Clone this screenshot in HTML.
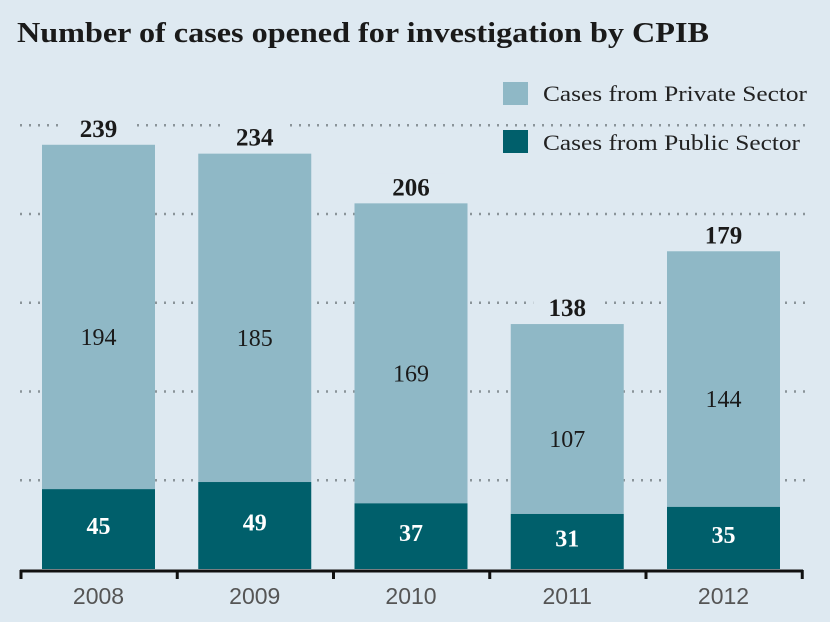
<!DOCTYPE html>
<html><head><meta charset="utf-8"><style>
body{margin:0;background:#dee9f1;}
svg{display:block;font-family:"Liberation Serif",serif;}
</style></head><body>
<svg width="830" height="622">
<rect width="830" height="622" fill="#dee9f1"/>
<text x="17" y="42" font-size="28" font-weight="bold" fill="#1a1a1a" textLength="692" lengthAdjust="spacingAndGlyphs">Number of cases opened for investigation by CPIB</text>
<g id="grid"></g>
<g id="bars"></g>
<g id="axis"></g>
<g>
<rect x="503" y="82" width="25" height="23" fill="#8fb8c6"/>
<text x="543" y="101" font-size="22" fill="#222" textLength="264" lengthAdjust="spacingAndGlyphs">Cases from Private Sector</text>
<rect x="503" y="130" width="25" height="23" fill="#005f6b"/>
<text x="543" y="150" font-size="22" fill="#222" textLength="257" lengthAdjust="spacingAndGlyphs">Cases from Public Sector</text>
</g>
</svg>
<script>
const years=["2008","2009","2010","2011","2012"];
const privateCases=[194,185,169,107,144];
const publicCases=[45,49,37,31,35];
const totals=[239,234,206,138,179];
const gridTicks=[50,100,150,200,250];
const NS="http://www.w3.org/2000/svg";
const base=569,scale=1.775,x0=42,step=156.25,bw=113;
const y=v=>base-v*scale;
const xb=i=>x0+i*step;
function mk(tag,attrs,parent,txt){const e=document.createElementNS(NS,tag);for(const k in attrs)e.setAttribute(k,attrs[k]);if(txt!==undefined)e.textContent=txt;parent.appendChild(e);return e;}
const grid=document.getElementById('grid'),bars=document.getElementById('bars'),axis=document.getElementById('axis');
gridTicks.forEach(t=>{
 const l=mk('line',{x1:20,x2:812,y1:y(t),y2:y(t),stroke:'#8a9499','stroke-width':2.5,'stroke-dasharray':'2 7'},grid);
 
 
});
years.forEach((yr,i)=>{
 const x=xb(i),tot=publicCases[i]+privateCases[i];
 const pr=mk('rect',{x:x,y:y(tot),width:bw,height:privateCases[i]*scale,fill:'#8fb8c6'},bars);
 
 
 const pu=mk('rect',{x:x,y:y(publicCases[i]),width:bw,height:publicCases[i]*scale,fill:'#005f6b'},bars);
 
 
 const tb=mk('rect',{x:x+bw/2-34,y:y(tot)-30,width:68,height:27,fill:'#dee9f1'},bars);
 
 
 const tl=mk('text',{x:x+bw/2,y:y(tot)-8,'text-anchor':'middle','font-size':25,'font-weight':'bold',fill:'#1a1a1a'},bars,totals[i]);
 
 
 const pl=mk('text',{x:x+bw/2,y:y(publicCases[i]+privateCases[i]/2)+28,'text-anchor':'middle','font-size':24,fill:'#1a1a1a'},bars,privateCases[i]);
 
 
 const ul=mk('text',{x:x+bw/2,y:y(publicCases[i]/2)+5,'text-anchor':'middle','font-size':24,'font-weight':'bold',fill:'#fff'},bars,publicCases[i]);
 
 
 const xl=mk('text',{x:x+bw/2,y:604,'text-anchor':'middle','font-size':23,fill:'#555','font-family':'Liberation Sans, sans-serif'},axis,yr);
 
 
});
const al=mk('line',{x1:20,x2:803,y1:571,y2:571,stroke:'#111','stroke-width':3},axis);


for(let i=0;i<=5;i++){
 const tx=21+i*156.25;
 const t=mk('line',{x1:tx,x2:tx,y1:570,y2:579,stroke:'#111','stroke-width':3},axis);
 
 
}
</script>
</body></html>
